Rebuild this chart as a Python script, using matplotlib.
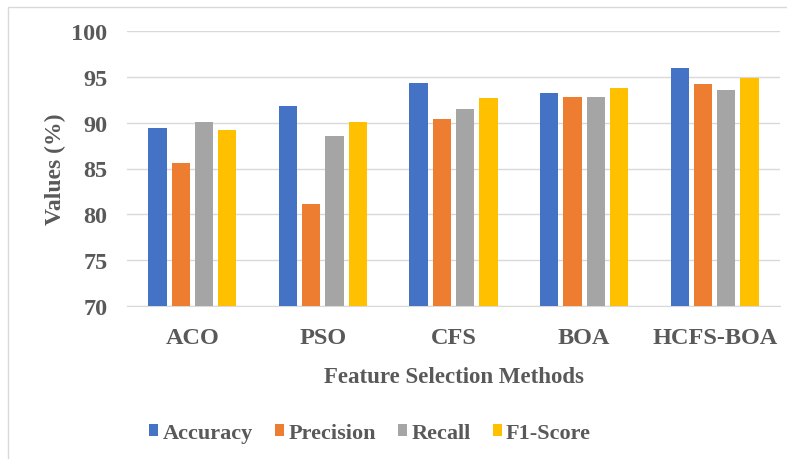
import matplotlib.pyplot as plt
from matplotlib.patches import Rectangle
import numpy as np

methods = ['ACO', 'PSO', 'CFS', 'BOA', 'HCFS-BOA']
series = ['Accuracy', 'Precision', 'Recall', 'F1-Score']
accuracy = [89.4, 91.8, 94.3, 93.2, 96.0]
precision = [85.6, 81.1, 90.4, 92.8, 94.2]
recall = [90.1, 88.6, 91.5, 92.8, 93.6]
f1_score = [89.2, 90.1, 92.7, 93.8, 94.9]
colors = ['#4472C4', '#ED7D31', '#A5A5A5', '#FFC000']

plt.rcParams['font.family'] = ['Liberation Serif', 'DejaVu Serif']
plt.rcParams['font.weight'] = 'bold'
txt = '#595959'

fig = plt.figure(figsize=(7.87, 4.6), dpi=100)
ax = fig.add_axes([127 / 787, 1 - 306.7 / 460, 653 / 787, 274.4 / 460])

x = np.arange(len(methods))
width = 0.14
step = 0.178
for i, (vals, name) in enumerate(zip([accuracy, precision, recall, f1_score], series)):
    ax.bar(x + (i - 1.5) * step, vals, width, color=colors[i], label=name, zorder=3)

ax.set_xlim(-0.5, len(methods) - 0.5)
ax.set_ylim(70, 100)
ax.set_yticks(range(70, 101, 5))
ax.set_xticks(x)
ax.set_xticklabels(methods)
ax.grid(axis='y', color='#D9D9D9', linewidth=1.0, zorder=0)
for s in ['top', 'right', 'left']:
    ax.spines[s].set_visible(False)
ax.spines['bottom'].set_color('#D9D9D9')
ax.tick_params(axis='both', length=0, labelsize=17.5, colors=txt)
ax.tick_params(axis='y', pad=14)
ax.tick_params(axis='x', pad=15)

ax.set_xlabel('Feature Selection Methods', fontsize=16.5, color=txt,
              fontweight='bold', labelpad=13)
ax.set_ylabel('Values (%)', fontsize=17, color=txt, fontweight='bold',
              labelpad=4)

fig.legend(loc='center', bbox_to_anchor=(370 / 787, 1 - 434 / 460), ncol=4,
           frameon=False, fontsize=16, handlelength=0.4, handleheight=0.4,
           handletextpad=0.2, columnspacing=1.0, labelcolor=txt)

# light frame around the chart area
fig.patches.append(Rectangle((8 / 787, -0.02), 1.0, 1 - 8 / 460 + 0.02,
                             transform=fig.transFigure, fill=False,
                             edgecolor='#D9D9D9', linewidth=1.0))

fig.savefig('out.png', dpi=100)
